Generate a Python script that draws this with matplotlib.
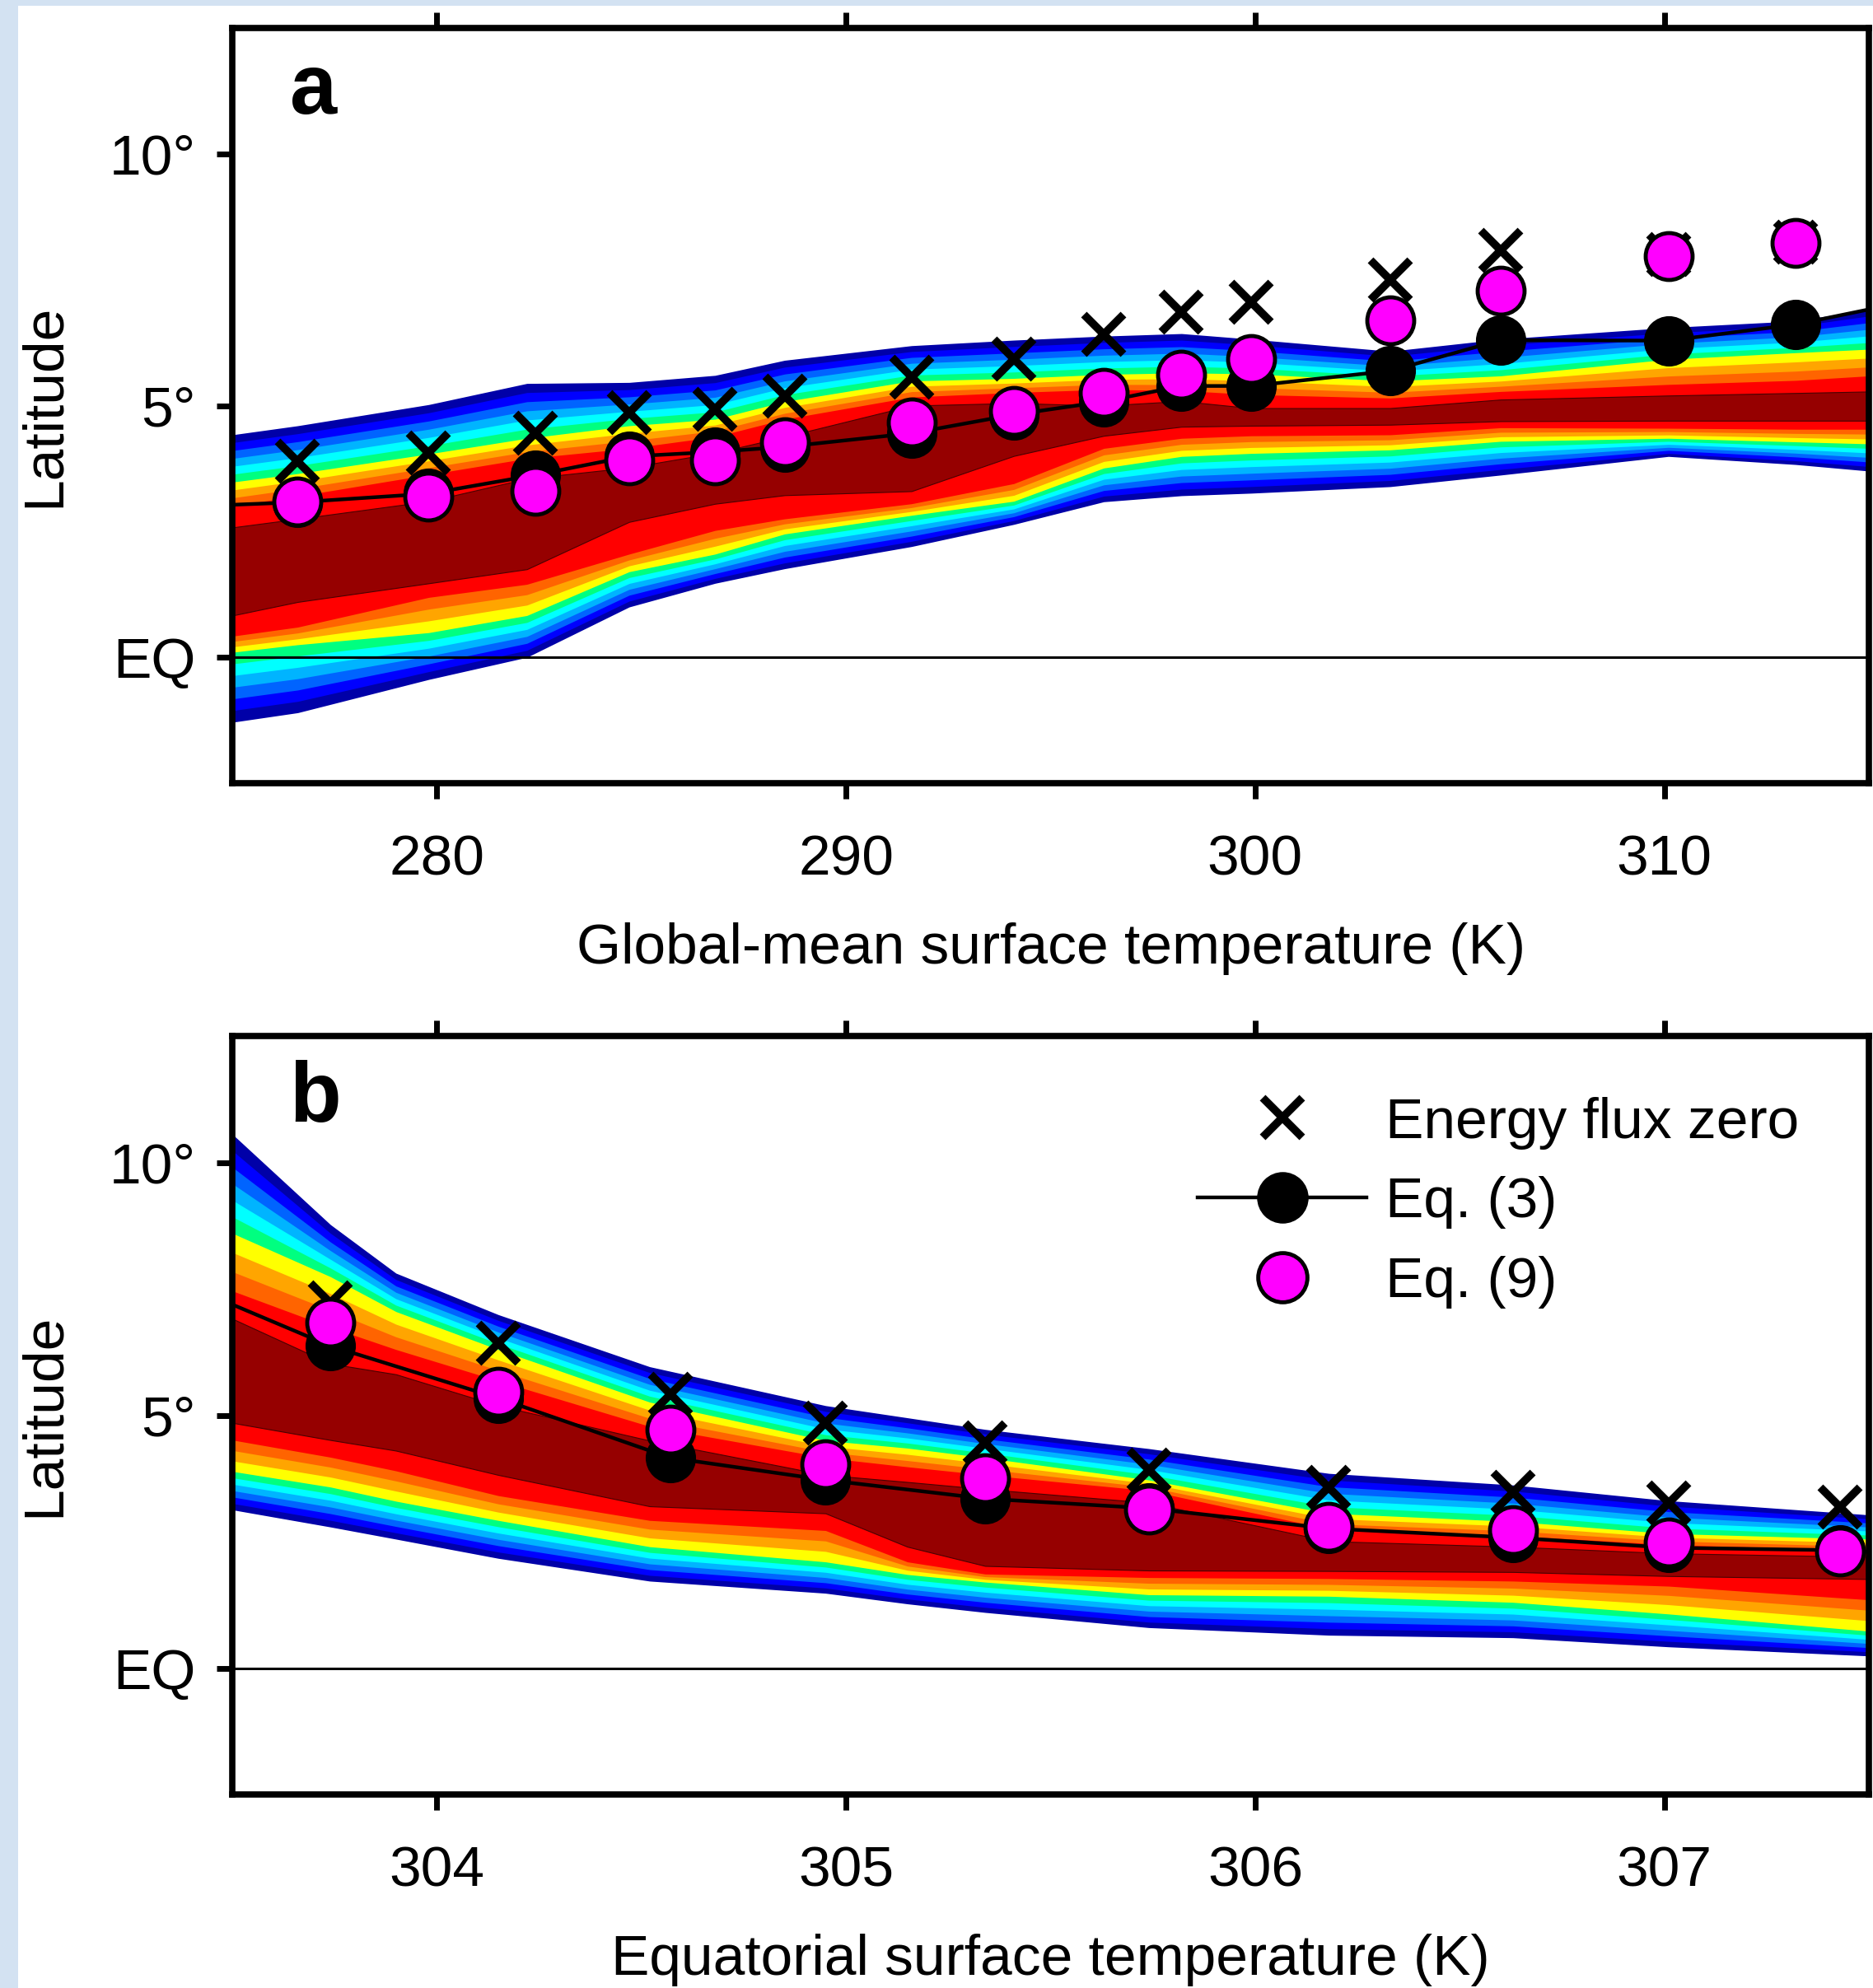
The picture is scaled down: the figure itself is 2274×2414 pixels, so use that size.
import numpy as np
import matplotlib
matplotlib.use("Agg")
import matplotlib.pyplot as plt
from matplotlib.lines import Line2D
from matplotlib.patches import Rectangle

plt.rcParams['font.family'] = ['Liberation Sans', 'DejaVu Sans']

# ---------------- panel a: global-mean surface temperature ----------------
a_temp = [276.6, 279.8, 282.4, 284.7, 286.8, 288.5, 291.6, 294.1,
          296.3, 298.2, 299.9, 303.3, 306.0, 310.1, 313.2]
a_flux_zero = [3.90, 4.06, 4.45, 4.86, 4.92, 5.18, 5.57, 5.92,
               6.42, 6.86, 7.06, 7.49, 8.08, 8.00, 8.25]
a_eq3 = [3.08, 3.25, 3.62, 3.99, 4.08, 4.18, 4.45, 4.82,
         5.08, 5.39, 5.39, 5.69, 6.30, 6.29, 6.61]
a_eq9 = [3.10, 3.19, 3.31, 3.92, 3.92, 4.28, 4.66, 4.90,
         5.25, 5.62, 5.92, 6.70, 7.28, 7.97, 8.23]
a_eq3_edges = [3.03, 6.91]          # Eq. (3) curve at the left / right frame

# latitude of the contour edges of the distribution, outer edge -> core
a_band_temp = [275.0, 276.6, 279.8, 282.2, 284.7, 286.8, 288.5, 291.6, 294.1,
               296.3, 298.2, 299.9, 303.3, 306.0, 310.1, 313.2, 315.0]
a_outer_hi = [4.42, 4.60, 5.02, 5.44, 5.46, 5.60, 5.90, 6.19, 6.30,
              6.38, 6.43, 6.32, 6.08, 6.32, 6.55, 6.68, 6.91]
a_yellow_hi = [3.48, 3.65, 4.04, 4.35, 4.60, 4.73, 5.08, 5.49, 5.54,
               5.62, 5.65, 5.63, 5.49, 5.59, 5.92, 6.05, 6.12]
a_red_hi = [3.01, 3.20, 3.63, 3.95, 4.15, 4.38, 4.73, 5.17, 5.26,
            5.32, 5.30, 5.22, 5.15, 5.28, 5.42, 5.50, 5.59]
a_core_hi = [2.58, 2.75, 3.10, 3.55, 3.77, 4.06, 4.38, 5.00, 5.05,
             5.00, 5.09, 4.95, 4.95, 5.12, 5.20, 5.25, 5.28]
a_core_lo = [0.83, 1.10, 1.47, 1.75, 2.69, 3.05, 3.22, 3.30, 4.00,
             4.40, 4.58, 4.60, 4.62, 4.69, 4.70, 4.70, 4.70]
a_red_lo = [0.42, 0.60, 1.19, 1.45, 2.05, 2.52, 2.75, 3.05, 3.45,
            4.15, 4.35, 4.40, 4.42, 4.56, 4.55, 4.53, 4.53]
a_yellow_lo = [0.10, 0.25, 0.49, 0.83, 1.70, 2.05, 2.45, 2.82, 3.10,
               3.76, 3.99, 4.05, 4.12, 4.29, 4.35, 4.28, 4.24]
a_outer_lo = [-1.29, -1.10, -0.44, 0.00, 1.00, 1.47, 1.76, 2.20, 2.64,
              3.09, 3.21, 3.26, 3.39, 3.62, 3.99, 3.83, 3.70]

a_xticks = [280, 290, 300, 310]

# ---------------- panel b: equatorial surface temperature ----------------
b_temp = [303.74, 304.15, 304.57, 304.95, 305.34, 305.74, 306.18, 306.63, 307.01, 307.43]
b_flux_zero = [7.22, 6.42, 5.42, 4.85, 4.45, 3.92, 3.58, 3.48, 3.27, 3.18]
b_eq3 = [6.37, 5.34, 4.16, 3.72, 3.35, 3.16, 2.76, 2.58, 2.38, 2.33]
b_eq9 = [6.84, 5.47, 4.72, 4.03, 3.76, 3.13, 2.79, 2.72, 2.48, 2.31]
b_eq3_edges = [7.19, 2.30]

b_band_temp = [303.5, 303.74, 303.9, 304.15, 304.52, 304.95, 305.15, 305.34,
               305.74, 306.18, 306.63, 307.01, 307.5]
b_outer_hi = [10.56, 8.77, 7.81, 6.99, 5.96, 5.19, 4.95, 4.72, 4.34, 3.85, 3.62, 3.31, 3.03]
b_yellow_hi = [8.60, 7.74, 7.05, 6.30, 5.26, 4.50, 4.35, 4.16, 3.72, 3.06, 2.90, 2.66, 2.55]
b_red_hi = [7.46, 6.74, 6.30, 5.68, 4.78, 4.16, 3.98, 3.82, 3.51, 2.75, 2.62, 2.44, 2.33]
b_core_hi = [6.91, 6.02, 5.81, 5.19, 4.50, 3.82, 3.68, 3.54, 3.27, 2.51, 2.40, 2.27, 2.20]
b_core_lo = [4.85, 4.51, 4.30, 3.82, 3.20, 3.06, 2.40, 2.02, 1.93, 1.92, 1.90, 1.82, 1.76]
b_red_lo = [4.51, 4.17, 3.90, 3.41, 2.92, 2.72, 2.10, 1.86, 1.79, 1.77, 1.72, 1.62, 1.35]
b_yellow_lo = [3.89, 3.58, 3.30, 2.92, 2.40, 2.10, 1.85, 1.70, 1.45, 1.42, 1.30, 1.07, 0.73]
b_outer_lo = [3.13, 2.79, 2.55, 2.17, 1.72, 1.48, 1.27, 1.10, 0.80, 0.65, 0.60, 0.42, 0.24]

b_xticks = [304, 305, 306, 307]

lat_ticks = [0, 5, 10]
lat_labels = ['EQ', '5°', '10°']
legend_labels = ['Energy flux zero', 'Eq. (3)', 'Eq. (9)']

# ---------------- styling ----------------
COLD = ['#0000a8', '#0000ff', '#0064ff', '#00b4ff', '#00ffff', '#00ff80']
WARM = ['#ffff00', '#ffa500', '#ff6400']
RED = '#ff0000'
CORE = '#960000'
MAGENTA = '#ff00ff'
FS = 50
DOT_MS = 42
X_MS, X_MEW = 34, 7

W, H = 2274, 2414
fig = plt.figure(figsize=(W / 100, H / 100), dpi=100)
fig.patch.set_facecolor('white')
# pale blue page margin along the left and top edges
fig.add_artist(Rectangle((0, 0), 22 / W, 1, transform=fig.transFigure,
                         facecolor='#d3e2f2', edgecolor='none', zorder=0))
fig.add_artist(Rectangle((0, 1 - 7 / H), 1, 7 / H, transform=fig.transFigure,
                         facecolor='#d3e2f2', edgecolor='none', zorder=0))

ax_a = fig.add_axes([282 / W, 1 - 951 / H, 1987 / W, 917 / H])
ax_b = fig.add_axes([282 / W, 1 - 2179 / H, 1987 / W, 921 / H])


def draw_bands(ax, x, outer_hi, yellow_hi, red_hi, core_hi,
               core_lo, red_lo, yellow_lo, outer_lo):
    x = np.asarray(x)
    oh, yh, rh, ch = map(np.asarray, (outer_hi, yellow_hi, red_hi, core_hi))
    ol, yl, rl, cl = map(np.asarray, (outer_lo, yellow_lo, red_lo, core_lo))
    for j, c in enumerate(COLD):
        f = j / len(COLD)
        ax.fill_between(x, ol + (yl - ol) * f, oh + (yh - oh) * f,
                        color=c, lw=0, zorder=1)
    for j, c in enumerate(WARM):
        f = j / len(WARM)
        ax.fill_between(x, yl + (rl - yl) * f, yh + (rh - yh) * f,
                        color=c, lw=0, zorder=1)
    ax.fill_between(x, rl, rh, color=RED, lw=0, zorder=1)
    ax.fill_between(x, cl, ch, facecolor=CORE, edgecolor='#4a0000',
                    lw=0.8, zorder=1)


def draw_panel(ax, xlim, xticks, band_x, bands, temp, flux0, eq3, eq3_edges,
               eq9, letter, xlabel):
    draw_bands(ax, band_x, *bands)
    ax.axhline(0, color='k', lw=2.2, zorder=2)
    line_x = [xlim[0]] + list(temp) + [xlim[1]]
    line_y = [eq3_edges[0]] + list(eq3) + [eq3_edges[1]]
    ax.plot(line_x, line_y, color='k', lw=3.2, zorder=3)
    ax.plot(temp, eq3, ls='none', marker='o', ms=DOT_MS, mfc='k', mec='k',
            mew=2, zorder=3)
    ax.plot(temp, flux0, ls='none', marker='x', ms=X_MS, mew=X_MEW, color='k',
            zorder=4)
    ax.plot(temp, eq9, ls='none', marker='o', ms=DOT_MS - 1, mfc=MAGENTA,
            mec='k', mew=3.5, zorder=5)

    ax.set_xlim(*xlim)
    ax.set_ylim(-2.5, 12.5)
    ax.set_xticks(xticks)
    ax.set_yticks(lat_ticks)
    ax.set_yticklabels(lat_labels)
    for s in ax.spines.values():
        s.set_linewidth(5.5)
    ax.tick_params(axis='x', direction='out', length=14, width=5,
                   top=True, bottom=True, labeltop=False, pad=30, labelsize=FS)
    ax.tick_params(axis='y', direction='out', length=14, width=5,
                   left=True, right=False, pad=18, labelsize=FS)
    ax.set_xlabel(xlabel, fontsize=FS)
    ax.set_ylabel('Latitude', fontsize=FS)
    ax.yaxis.set_label_coords(-0.099, 0.5)
    ax.text(0.035, 0.887, letter, transform=ax.transAxes, fontsize=74,
            fontweight='bold', va='baseline', ha='left')


draw_panel(ax_a, (275, 315), a_xticks, a_band_temp,
           (a_outer_hi, a_yellow_hi, a_red_hi, a_core_hi,
            a_core_lo, a_red_lo, a_yellow_lo, a_outer_lo),
           a_temp, a_flux_zero, a_eq3, a_eq3_edges, a_eq9, 'a',
           'Global-mean surface temperature (K)')
ax_a.xaxis.set_label_coords(0.5, -0.184)

draw_panel(ax_b, (303.5, 307.5), b_xticks, b_band_temp,
           (b_outer_hi, b_yellow_hi, b_red_hi, b_core_hi,
            b_core_lo, b_red_lo, b_yellow_lo, b_outer_lo),
           b_temp, b_flux_zero, b_eq3, b_eq3_edges, b_eq9, 'b',
           'Equatorial surface temperature (K)')
ax_b.xaxis.set_label_coords(0.5, -0.184)

handles = [
    Line2D([], [], ls='none', marker='x', ms=X_MS, mew=X_MEW, color='k'),
    Line2D([], [], color='k', lw=3.2, marker='o', ms=DOT_MS + 2, mfc='k', mec='k'),
    Line2D([], [], ls='none', marker='o', ms=DOT_MS + 1, mfc=MAGENTA, mec='k',
           mew=3.5),
]
ax_b.legend(handles, legend_labels, loc='upper left',
            bbox_to_anchor=(0.590, 0.92), frameon=False, fontsize=FS,
            handlelength=2.95, handletextpad=0.33, labelspacing=0.47,
            borderpad=0, borderaxespad=0, numpoints=1)

fig.savefig('out.png', dpi=100)
